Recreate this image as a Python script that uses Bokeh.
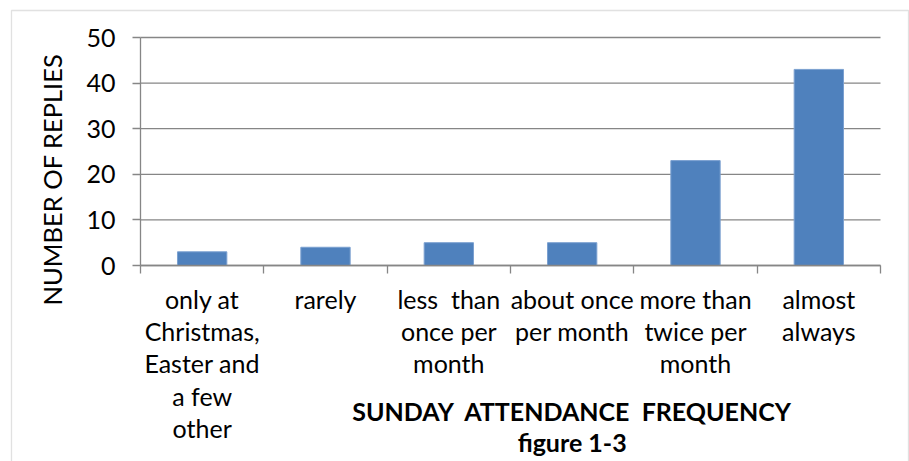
import math
from bokeh.plotting import figure
from bokeh.models import Range1d, FixedTicker, Label, BoxAnnotation
from bokeh.embed import file_html
from bokeh.resources import INLINE

categories = [
    "only at\nChristmas,\nEaster and\na few\nother",
    "rarely",
    "less \u00a0than\nonce per\nmonth",
    "about once\nper month",
    "more than\ntwice per\nmonth",
    "almost\nalways",
]
replies = [3, 4, 5, 5, 23, 43]
y_ticks = [0, 10, 20, 30, 40, 50]
x_title = "SUNDAY \u00a0ATTENDANCE \u00a0FREQUENCY"
fig_caption = "figure 1-3"
y_title = "NUMBER OF REPLIES"

n = len(categories)
positions = [i + 0.5 for i in range(n)]
boundaries = [float(i) for i in range(n + 1)]

GRID = "#868686"
FONT = "Lato"
FS = "25px"

# the frame fills the whole canvas; the axes sit at fixed locations inside it
p = figure(
    width=909, height=461,
    min_border=0, min_border_left=0, min_border_right=0, min_border_top=0, min_border_bottom=0,
    x_range=Range1d(-1.1351, 6.2351), y_range=Range1d(-42.982, 58.114),
    output_backend="svg", toolbar_location=None,
)
p.outline_line_color = None
p.background_fill_color = "white"
p.border_fill_color = "white"
p.xgrid.visible = False
p.ygrid.visible = False

# horizontal gridlines across the category span
p.segment(x0=[0] * len(y_ticks), x1=[n] * len(y_ticks), y0=y_ticks, y1=y_ticks,
          line_color=GRID, line_width=1.3)

p.vbar(x=positions, top=replies, width=0.4, fill_color="#4F81BD", line_color="#7BA0D0", line_width=1)

# x axis
xa = p.xaxis[0]
xa.fixed_location = 0
xa.bounds = (0, n)
xa.ticker = FixedTicker(ticks=positions, minor_ticks=boundaries)
xa.major_label_overrides = {pos: lab for pos, lab in zip(positions, categories)}
xa.major_tick_out = 0
xa.major_tick_in = 0
xa.minor_tick_out = 8
xa.minor_tick_in = 0
xa.minor_tick_line_color = GRID
xa.minor_tick_line_width = 1.3
xa.axis_line_color = GRID
xa.axis_line_width = 1.3
xa.major_label_standoff = 10
xa.major_label_text_line_height = 1.083

# y axis
ya = p.yaxis[0]
ya.fixed_location = 0
ya.bounds = (0, 50)
ya.ticker = FixedTicker(ticks=y_ticks)
ya.major_tick_out = 8
ya.major_tick_in = 0
ya.major_tick_line_color = GRID
ya.major_tick_line_width = 1.3
ya.minor_tick_line_color = None
ya.axis_line_color = GRID
ya.axis_line_width = 1.3
ya.major_label_standoff = 17

for ax in (xa, ya):
    ax.major_label_text_font = FONT
    ax.major_label_text_font_size = FS
    ax.major_label_text_color = "black"

p.add_layout(Label(x=3.5, y=-31.8, text=x_title, text_align="center", text_baseline="middle",
                   text_font=FONT, text_font_size="25px", text_font_style="bold", text_color="black"))
p.add_layout(Label(x=3.5, y=-38.6, text=fig_caption, text_align="center", text_baseline="middle",
                   text_font=FONT, text_font_size="25px", text_font_style="bold", text_color="black"))
p.add_layout(Label(x=-0.72, y=18.86, text=y_title, angle=math.pi / 2, text_align="center",
                   text_baseline="middle", text_font=FONT, text_font_size="25.5px", text_color="black"))

p.add_layout(BoxAnnotation(left=-1.046, right=6.227, top=55.92, bottom=-60,
                           fill_alpha=0, fill_color=None, line_color="#9a9a9a", line_width=1.3))

open("out.html", "w").write(file_html(p, INLINE))
